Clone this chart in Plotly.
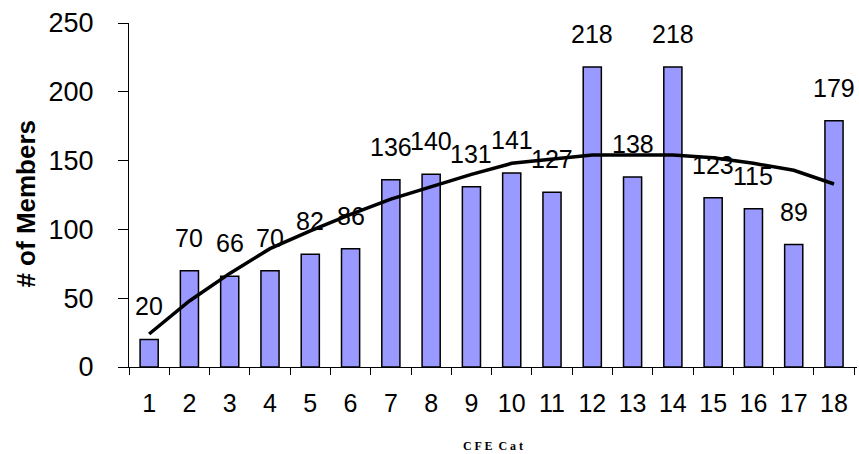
import plotly.graph_objects as go

categories = [str(i) for i in range(1, 19)]
members = [20, 70, 66, 70, 82, 86, 136, 140, 131, 141, 127, 218, 138, 218, 123, 115, 89, 179]
trend = [24, 48, 68, 86, 99, 111, 122, 131, 140, 148, 151, 154, 154, 154, 152, 148, 143, 133]

fig = go.Figure()
fig.add_trace(go.Bar(
    x=categories, y=members,
    marker=dict(color="#9999FF", line=dict(color="black", width=1.5)),
    showlegend=False, hoverinfo="x+y",
))
fig.add_trace(go.Scatter(
    x=categories, y=trend, mode="lines",
    line=dict(color="black", width=3.5),
    showlegend=False, hoverinfo="skip",
))
for i, v in enumerate(members):
    fig.add_annotation(x=i, y=v, text=str(v), showarrow=False,
                       yshift=33, yanchor="middle",
                       font=dict(family="Liberation Sans, Arial", size=25, color="black"))

# y-axis title
fig.add_annotation(xref="paper", yref="paper", x=-0.142, y=0.474,
                   text="<b># of Members</b>", textangle=-90, showarrow=False,
                   xanchor="center", yanchor="middle",
                   font=dict(family="Liberation Sans, Arial", size=26, color="black"))

fig.update_layout(
    width=859, height=454,
    margin=dict(l=129, r=2, t=23, b=87),
    plot_bgcolor="white", paper_bgcolor="white",
    bargap=0.55,
    font=dict(family="Liberation Sans, Arial", color="black"),
    xaxis=dict(
        type="category", tickson="boundaries", automargin=False,
        showline=True, linecolor="black", linewidth=1,
        ticks="outside", ticklen=7, tickcolor="black",
        tickfont=dict(size=25), ticklabelstandoff=14,
        showgrid=False,
        title=dict(text="<b>C F E  C a t</b>", font=dict(family="Liberation Serif, Times New Roman", size=12), standoff=25),
    ),
    yaxis=dict(
        range=[0, 250], tickvals=[0, 50, 100, 150, 200, 250], automargin=False,
        showline=True, linecolor="black", linewidth=1,
        ticks="outside", ticklen=10, tickcolor="black",
        tickfont=dict(size=27), ticklabelstandoff=19,
        showgrid=False, zeroline=False,
    ),
)
fig.write_html("out.html", config={"displayModeBar": False},
               post_script="document.body.style.margin='0';document.body.style.overflow='hidden';")
